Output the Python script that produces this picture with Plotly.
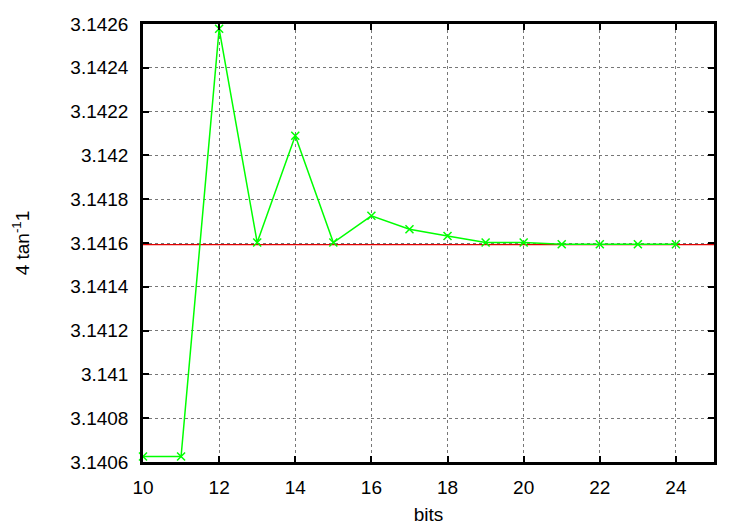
import plotly.graph_objects as go
import math

bits = [10, 11, 12, 13, 14, 15, 16, 17, 18, 19, 20, 21, 22, 23, 24]
approx = [3.140625, 3.140625, 3.142578, 3.141602, 3.142090, 3.141602, 3.141724,
          3.141663, 3.141632, 3.141602, 3.141602, 3.141594, 3.141594, 3.141594, 3.141594]
ref_x = [10, 25]
ref_y = [math.pi, math.pi]

ytick_vals = [3.1406, 3.1408, 3.141, 3.1412, 3.1414, 3.1416, 3.1418, 3.142, 3.1422, 3.1424, 3.1426]
ytick_text = ["3.1406", "3.1408", "3.141", "3.1412", "3.1414", "3.1416", "3.1418", "3.142", "3.1422", "3.1424", "3.1426"]
xtick_vals = [10, 12, 14, 16, 18, 20, 22, 24]

fig = go.Figure()
fig.add_trace(go.Scatter(x=ref_x, y=ref_y, mode="lines",
                         line=dict(color="#e00000", width=1.2), showlegend=False,
                         cliponaxis=False))
fig.add_trace(go.Scatter(x=bits, y=approx, mode="lines+markers",
                         line=dict(color="#00ff00", width=1.5),
                         marker=dict(symbol="x-thin", size=8, line=dict(color="#00ff00", width=1.5)),
                         showlegend=False, cliponaxis=False))

font = dict(family="Liberation Sans, Arial, sans-serif", size=19, color="black")
fig.update_layout(
    width=750, height=525,
    margin=dict(l=143, r=36, t=24, b=63),
    paper_bgcolor="white", plot_bgcolor="white",
    font=font,
    xaxis=dict(range=[10, 25], tickvals=xtick_vals, ticks="inside", ticklen=6, tickwidth=1.5,
               tickcolor="black", showline=True, linecolor="black", linewidth=2.5, mirror="ticks",
               showgrid=True, gridcolor="#777777", griddash="dot", gridwidth=1, zeroline=False,
               automargin=False, tickfont=font,
               title=dict(text="bits", standoff=12, font=font), ticklabelstandoff=6),
    yaxis=dict(range=[3.1406, 3.1426], tickvals=ytick_vals, ticktext=ytick_text, ticks="inside",
               ticklen=6, tickwidth=1.5, tickcolor="black", showline=True, linecolor="black",
               linewidth=2.5, mirror="ticks", showgrid=True, gridcolor="#777777", griddash="dot",
               gridwidth=1, zeroline=False, ticklabelstandoff=8, automargin=False, tickfont=font,
               title=dict(text="4 tan<sup>-1</sup>1", standoff=36, font=font)),
)
fig.write_html("out.html", config={"displayModeBar": False},
               post_script="document.body.style.margin='0px';")
